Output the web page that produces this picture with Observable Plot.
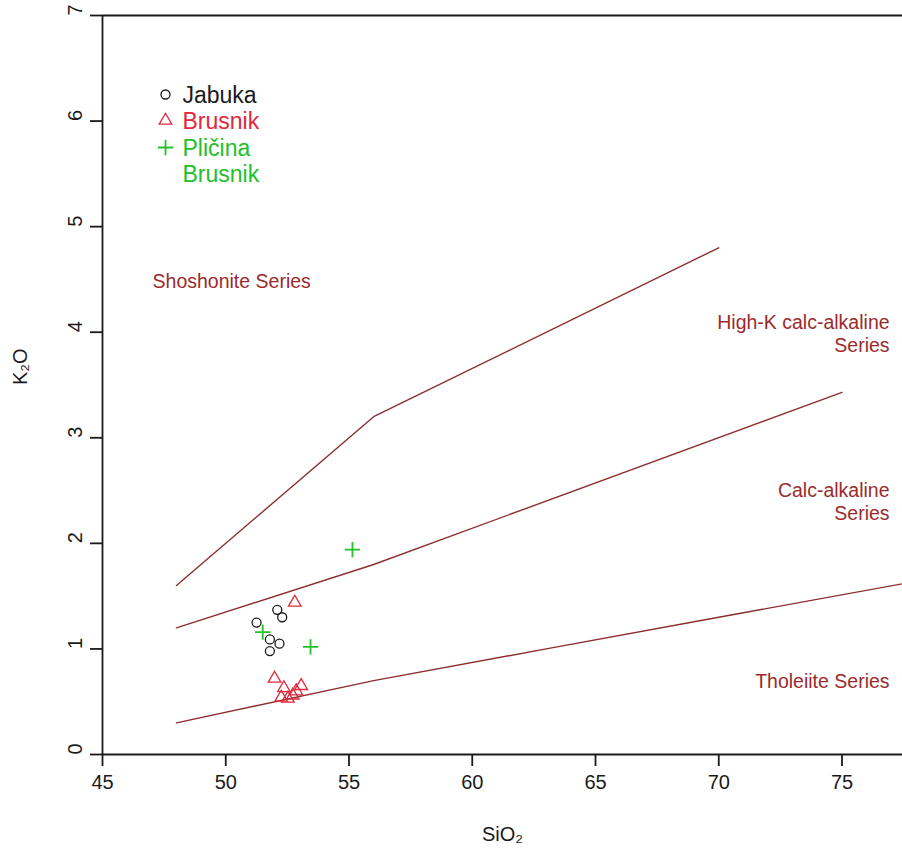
<!DOCTYPE html>
<html>
<head>
<meta charset="utf-8">
<script src="https://cdn.jsdelivr.net/npm/d3@7"></script>
<script src="https://cdn.jsdelivr.net/npm/@observablehq/plot@0.6"></script>
<style>
  html, body { margin: 0; padding: 0; background: #ffffff; }
  #chart { width: 902px; height: 852px; }
  svg { font-family: "Liberation Sans", Arial, Helvetica, sans-serif; }
</style>
</head>
<body>
<div id="chart"></div>
<script>
// ---- data ----
const jabukaSiO2  = [51.25, 52.09, 52.29, 51.79, 52.18, 51.79];
const jabukaK2O   = [1.25, 1.37, 1.30, 1.09, 1.05, 0.98];
const brusnikSiO2 = [52.80, 51.98, 52.36, 53.06, 52.25, 52.52, 52.72, 52.86];
const brusnikK2O  = [1.44, 0.72, 0.63, 0.65, 0.54, 0.53, 0.56, 0.60];
const plicinaSiO2 = [51.50, 53.44, 55.14];
const plicinaK2O  = [1.16, 1.02, 1.94];

// Peccerillo & Taylor (1976) boundaries
const shoshoniteX = [48, 56, 70];
const shoshoniteY = [1.6, 3.2, 4.8];
const highKX = [48, 56, 75];
const highKY = [1.2, 1.8, 3.43];
const tholeiiteX = [48, 56, 63, 70, 78];
const tholeiiteY = [0.3, 0.7, 1.0, 1.3, 1.64];

const seriesNames = ["Shoshonite Series", "High-K calc-alkaline\nSeries", "Calc-alkaline\nSeries", "Tholeiite Series"];
const seriesX = [47.03, 76.93, 76.93, 76.93];
const seriesY = [4.49, 3.99, 2.40, 0.70];
const seriesAnchor = ["start", "end", "end", "end"];

const legendNames = ["Jabuka", "Brusnik", "Pličina\nBrusnik"];
const xTicks = [45, 50, 55, 60, 65, 70, 75];
const yTicks = [0, 1, 2, 3, 4, 5, 6, 7];
const xLabel = "SiO₂";
const yLabel = "K₂O";

// ---- build tables ----
const zip = (xs, ys) => xs.map((x, i) => ({x, y: ys[i]}));
const jabuka = zip(jabukaSiO2, jabukaK2O);
const brusnik = zip(brusnikSiO2, brusnikK2O);
const plicina = zip(plicinaSiO2, plicinaK2O);
const boundaries = [
  ...zip(shoshoniteX, shoshoniteY).map(d => ({...d, g: "a"})),
  ...zip(highKX, highKY).map(d => ({...d, g: "b"})),
  ...zip(tholeiiteX, tholeiiteY).map(d => ({...d, g: "c"}))
];
const series = seriesNames.map((t, i) => ({t, x: seriesX[i], y: seriesY[i], a: seriesAnchor[i]}));

const BLACK = "#1a1a1a";
const RED = "#e0283a";
const GREEN = "#22c02a";
const LINE = "#8b2e2e";
const LABEL = "#9a2b2b";

const circleStyle = {r: 4.5, stroke: BLACK, strokeWidth: 1.3, fill: "none"};
const triStyle = {symbol: "triangle2", r: 6, stroke: RED, strokeWidth: 1.3, fill: "none"};
const plusStyle = {symbol: "plus", r: 5, stroke: GREEN, strokeWidth: 1.8, fill: "none"};

const chart = Plot.plot({
  width: 902,
  height: 852,
  marginLeft: 102,
  marginRight: 0,
  marginTop: 15,
  marginBottom: 98,
  style: {fontFamily: '"Liberation Sans", Arial, Helvetica, sans-serif', background: "#fff", overflow: "visible"},
  x: {domain: [45, 45 + 800 / 24.65]},
  y: {domain: [0, 7]},
  marks: [
    Plot.axisX({ticks: xTicks, tickSize: 12, tickPadding: 8, fontSize: 20, label: null, stroke: BLACK, strokeWidth: 1.8, color: BLACK}),
    Plot.axisY({ticks: yTicks, tickSize: 12, tickFormat: () => "", label: null, stroke: BLACK, strokeWidth: 1.8}),
    Plot.text(yTicks, {y: d => d, text: d => String(d), frameAnchor: "left", dx: -27, rotate: -90, fontSize: 20, fill: BLACK}),
    Plot.ruleY([0, 7], {stroke: BLACK, strokeWidth: 1.8}),
    Plot.ruleX([45], {stroke: BLACK, strokeWidth: 1.8}),
    Plot.text([xLabel], {text: d => d, frameAnchor: "bottom", dy: 86, fontSize: 20, fill: BLACK}),
    Plot.text([yLabel], {text: d => d, frameAnchor: "left", dx: -82, rotate: -90, fontSize: 20, fill: BLACK}),
    Plot.line(boundaries, {x: "x", y: "y", z: "g", stroke: LINE, strokeWidth: 1.4, clip: true}),
    Plot.text(series.filter(d => d.a === "start"), {x: "x", y: "y", text: "t", textAnchor: "start", fontSize: 19.5, fill: LABEL, lineHeight: 1.2}),
    Plot.text(series.filter(d => d.a === "end"), {x: "x", y: "y", text: "t", textAnchor: "end", fontSize: 19.5, fill: LABEL, lineHeight: 1.2}),
    Plot.dot(jabuka, {x: "x", y: "y", ...circleStyle}),
    Plot.dot(brusnik, {x: "x", y: "y", ...triStyle}),
    Plot.dot(plicina, {x: "x", y: "y", ...plusStyle}),
    // legend
    Plot.dot([legendNames[0]], {frameAnchor: "top-left", dx: 63, dy: 79, ...circleStyle}),
    Plot.dot([legendNames[1]], {frameAnchor: "top-left", dx: 63, dy: 105, ...triStyle}),
    Plot.dot([legendNames[2]], {frameAnchor: "top-left", dx: 63, dy: 132, ...plusStyle}),
    Plot.text([legendNames[0]], {text: d => d, frameAnchor: "top-left", dx: 80, dy: 80, textAnchor: "start", lineAnchor: "middle", fontSize: 23, fill: BLACK}),
    Plot.text([legendNames[1]], {text: d => d, frameAnchor: "top-left", dx: 80, dy: 106, textAnchor: "start", lineAnchor: "middle", fontSize: 23, fill: RED}),
    Plot.text([legendNames[2]], {text: d => d, frameAnchor: "top-left", dx: 80, dy: 145, textAnchor: "start", lineAnchor: "middle", fontSize: 23, fill: GREEN, lineHeight: 1.13})
  ]
});
document.getElementById("chart").appendChild(chart);
</script>
</body>
</html>
